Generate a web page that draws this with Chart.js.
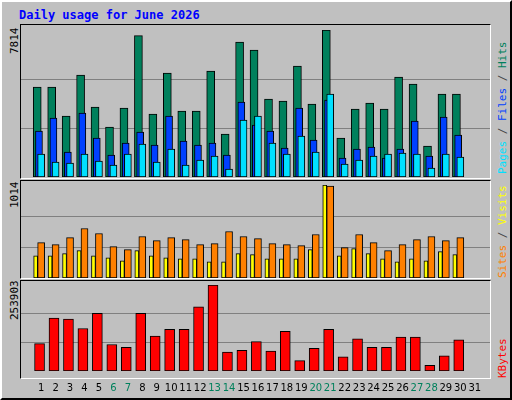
<!DOCTYPE html>
<html>
<head>
<meta charset="utf-8">
<script src="https://cdn.jsdelivr.net/npm/chart.js@4"></script>
<style>
  body { margin: 0; background: #fff; }
  #wrap { position: relative; width: 508px; height: 396px; background: #C0C0C0;
          border: 2px solid #000; border-top-color: #fff; border-left-color: #fff; overflow: hidden; }
  .frame { position: absolute; left: 18px; width: 471px; border: 1px solid #000;
           border-right-color: #fff; border-bottom-color: #fff; box-sizing: border-box; }
  canvas { position: absolute; }
  .lbl { position: absolute; font: 11px "DejaVu Sans Mono", monospace; white-space: nowrap;
         transform-origin: 0 0; transform: rotate(-90deg); }
  #title { position: absolute; left: 17px; top: 6px; font: bold 12px "DejaVu Sans Mono", monospace; color: #0000FF; }
</style>
</head>
<body>
<div id="wrap">
  <div id="title">Daily usage for June 2026</div>
  <div class="frame" style="top:22px;height:155px"></div>
  <div class="frame" style="top:178px;height:99px"></div>
  <div class="frame" style="top:278px;height:99px"></div>
  <canvas id="c1" width="469" height="152" style="left:19px;top:23px"></canvas>
  <canvas id="c2" width="469" height="97" style="left:19px;top:179px"></canvas>
  <canvas id="c3" width="469" height="116" style="left:19px;top:279px"></canvas>
  <div class="lbl" style="left:6px;top:52px">7814</div>
  <div class="lbl" style="left:6px;top:206px">1014</div>
  <div class="lbl" style="left:6px;top:318px">253903</div>
  <div class="lbl" style="left:494px;top:172px"><span style="color:#00E0FF">Pages</span><span style="color:#444"> / </span><span style="color:#0040FF">Files</span><span style="color:#444"> / </span><span style="color:#00805C">Hits</span></div>
  <div class="lbl" style="left:494px;top:276px"><span style="color:#FF8000">Sites</span><span style="color:#444"> / </span><span style="color:#FFFF00">Visits</span></div>
  <div class="lbl" style="left:494px;top:376px;color:#FF0000">KBytes</div>
</div>
<script>
const days = [1,2,3,4,5,6,7,8,9,10,11,12,13,14,15,16,17,18,19,20,21,22,23,24,25,26,27,28,29,30];
const tickDays = [1,2,3,4,5,6,7,8,9,10,11,12,13,14,15,16,17,18,19,20,21,22,23,24,25,26,27,28,29,30,31];
const weekendDays = [6,7,13,14,20,21,27,28];

const hits  = [4784,4784,3243,5422,3721,2658,3668,7513,3349,5529,3509,3509,5635,2286,7177,6751,4146,4040,5901,3881,7814,2073,3615,3934,3615,5316,4944,1648,4412,4412];
const files = [2445,3136,1329,3402,2073,1170,1807,2392,1701,3243,1914,1701,1807,1170,3987,2764,2445,1542,3668,1967,4093,1010,1488,1595,1010,1488,2977,1116,3190,2233];
const pages = [1223,797,744,1223,851,638,1223,1754,797,1488,638,904,1116,425,3030,3243,1807,1223,2180,1329,4412,691,904,1116,1223,1276,1223,478,1223,1063];
const visits = [386,364,441,540,485,342,309,452,408,441,419,364,375,507,452,430,375,364,353,474,1003,331,474,386,298,364,419,452,408,441];
const sites  = [242,242,265,298,242,220,187,298,242,220,209,209,176,176,265,254,209,209,209,309,1014,242,320,265,209,176,209,187,287,254];
const kbytes = [80900,156240,153450,125550,170190,78120,69750,170190,103230,122760,122760,189720,253903,55800,61380,86490,58590,117180,30690,66960,122760,41850,94860,69750,69750,100440,100440,16740,44640,92070];

const xMin = 0.13, xMax = 31.53;

function series(vals, shift) {
    return vals.map((v, i) => ({ x: days[i] + shift, y: v }));
}

function makeChart(id, datasets, top, showX, pad) {
    new Chart(document.getElementById(id), {
        type: 'bar',
        data: { datasets: datasets },
        options: {
            responsive: false,
            animation: false,
            layout: { padding: { top: pad, bottom: 0, left: 0, right: 0 } },
            plugins: { legend: { display: false }, tooltip: { enabled: false } },
            datasets: { bar: { grouped: false, borderColor: '#000', borderWidth: 1, borderSkipped: false } },
            scales: {
                x: {
                    type: 'linear', min: xMin, max: xMax, display: showX,
                    grid: { display: false }, border: { display: false },
                    afterBuildTicks: ax => { ax.ticks = tickDays.map(d => ({ value: d })); },
                    ticks: {
                        padding: 3, autoSkip: false, maxRotation: 0,
                        font: { family: 'DejaVu Sans', size: 10 },
                        color: c => weekendDays.includes(c.tick.value) ? '#00805C' : '#000'
                    }
                },
                y: {
                    min: 0, max: top,
                    border: { display: false },
                    grid: { color: '#808080', drawTicks: false },
                    afterBuildTicks: ax => { ax.ticks = [{ value: top / 3 }, { value: top * 2 / 3 }]; },
                    ticks: { display: false, padding: 0 }
                }
            }
        }
    });
}

makeChart('c1', [
    { data: series(pages, 0), backgroundColor: '#00E0FF', barThickness: 7 },
    { data: series(files, -0.15), backgroundColor: '#0040FF', barThickness: 7 },
    { data: series(hits, -0.27), backgroundColor: '#00805C', barThickness: 8 }
], Math.max(...hits), false, 5);

makeChart('c2', [
    { data: series(sites, -0.38), backgroundColor: '#FFFF00', barThickness: 4 },
    { data: series(visits, 0), backgroundColor: '#FF8000', barThickness: 7 }
], Math.max(...sites), false, 4);

makeChart('c3', [
    { data: series(kbytes, -0.11), backgroundColor: '#FF0000', barThickness: 10 }
], Math.max(...kbytes), true, 4);
</script>
</body>
</html>
